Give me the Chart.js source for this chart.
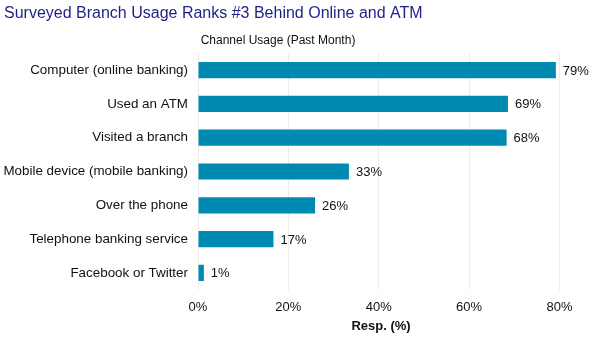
<!DOCTYPE html>
<html lang="en">
<head>
  <meta charset="UTF-8" />
  <title>Channel Usage</title>
  <script src="https://cdn.jsdelivr.net/npm/chart.js"></script>
  <style>
    html, body { margin: 0; padding: 0; background: #fff; }
    #wrap { width: 615px; height: 347px; }
  </style>
</head>
<body>
  <div id="wrap"><canvas id="graficoCanais"></canvas></div>

<script>
  const canais = [
    "Computer (online banking)",
    "Used an ATM",
    "Visited a branch",
    "Mobile device (mobile banking)",
    "Over the phone",
    "Telephone banking service",
    "Facebook or Twitter"
  ];
  const respostas = [79.2, 68.6, 68.3, 33.4, 25.9, 16.7, 1.3];
  const rotulosValor = ["79%", "69%", "68%", "33%", "26%", "17%", "1%"];
  const ticksX = [0, 20, 40, 60, 80];

  const corBarra = "#008ab2";
  const fonte = "'Liberation Sans', Arial, sans-serif";

  // subtitulo desenhado a mao, fica deslocado para a esquerda como no original
  const subtitulo = {
    id: "subtitulo",
    afterDraw(chart) {
      const ctx = chart.ctx;
      ctx.save();
      ctx.font = "12px " + fonte;
      ctx.fillStyle = "#111";
      ctx.textAlign = "center";
      ctx.textBaseline = "middle";
      ctx.fillText("Channel Usage (Past Month)", 278, 41);
      ctx.restore();
    }
  };

  // rotulos de valor ao lado das barras
  const rotulos = {
    id: "rotulos",
    afterDatasetsDraw(chart) {
      const ctx = chart.ctx;
      const meta = chart.getDatasetMeta(0);
      ctx.save();
      ctx.font = "13px " + fonte;
      ctx.fillStyle = "#111";
      ctx.textAlign = "left";
      ctx.textBaseline = "middle";
      meta.data.forEach((bar, i) => {
        ctx.fillText(rotulosValor[i], bar.x + 7, bar.y + 1);
      });
      ctx.restore();
    }
  };

  new Chart(document.getElementById("graficoCanais"), {
    type: "bar",
    data: {
      labels: canais,
      datasets: [{
        data: respostas,
        backgroundColor: corBarra,
        categoryPercentage: 1,
        barPercentage: 0.48
      }]
    },
    options: {
      indexAxis: "y",
      responsive: true,
      maintainAspectRatio: false,
      animation: false,
      layout: { padding: { left: 4, right: 51, bottom: 13, top: 0 } },
      plugins: {
        legend: { display: false },
        tooltip: { enabled: false },
        title: {
          display: true,
          text: "Surveyed Branch Usage Ranks #3 Behind Online and ATM",
          align: "start",
          color: "#1f1f8a",
          font: { family: fonte, size: 16, weight: "normal" },
          padding: { top: 4, bottom: 30 }
        }
      },
      scales: {
        x: {
          min: 0,
          max: 81,
          afterBuildTicks: scale => {
            scale.ticks = ticksX.map(v => ({ value: v }));
          },
          border: { display: false },
          grid: { color: "#ebebeb", drawTicks: false },
          ticks: {
            color: "#111",
            padding: 10,
            font: { family: fonte, size: 13 },
            callback: v => v + "%"
          },
          title: {
            display: true,
            text: "Resp. (%)",
            color: "#111",
            font: { family: fonte, size: 13, weight: "bold" },
            padding: { top: -7, bottom: 0 }
          }
        },
        y: {
          border: { display: false },
          grid: { display: false, drawTicks: false },
          afterFit: scale => { scale.width = 194; },
          ticks: {
            color: "#111",
            padding: 10,
            font: { family: fonte, size: 13.4 }
          }
        }
      }
    },
    plugins: [subtitulo, rotulos]
  });
</script>
</body>
</html>
